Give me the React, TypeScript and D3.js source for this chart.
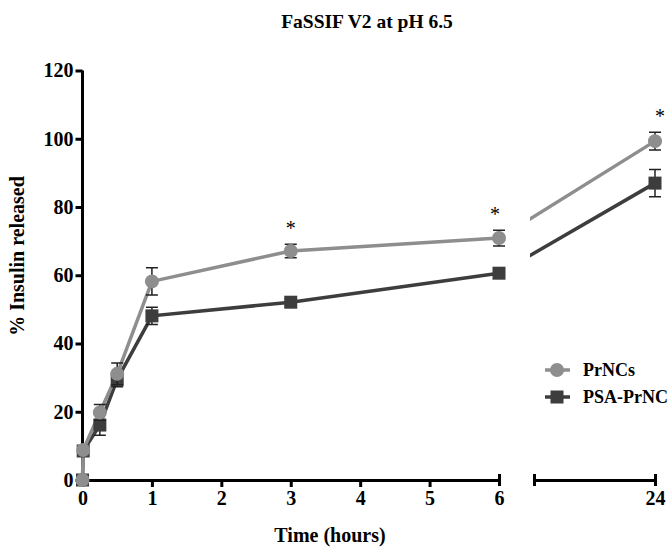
import React, { useRef, useEffect } from 'react';
import * as d3 from 'd3';

const times = [0, 0.01, 0.25, 0.5, 1, 3, 6, 24];
const prncs = [0, 8.8, 19.8, 31.1, 58.2, 67.1, 70.9, 99.3];
const prncsErr = [0, 0, 2.3, 3.2, 4, 2, 2.3, 2.6];
const psa = [0, 8.5, 16.1, 29.5, 48.1, 52.1, 60.6, 87];
const psaErr = [0, 0, 3, 2.2, 2.5, 1, 0.8, 4];
const starTimes = [3, 6, 24];
const starShift = [0, -4, 5];
const yTicks = [0, 20, 40, 60, 80, 100, 120];
const xTicksLeft = [0, 1, 2, 3, 4, 5, 6];
const xTicksRight = [24];

const LIGHT = '#8e8e8e';
const DARK = '#3d3d3d';
const FONT = 'Liberation Serif, DejaVu Serif, serif';

function setFont(sel: any, size: number, bold = true) {
  sel.attr('font-family', FONT).attr('font-size', size).attr('font-weight', bold ? 'bold' : 'normal')
    .style('font-family', FONT);
}

function App() {
  const svgRef = useRef<SVGSVGElement>(null);

  useEffect(() => {
    const svg = d3.select(svgRef.current);
    svg.selectAll('*').remove();

    // scales
    const y = d3.scaleLinear().domain([0, 120]).range([480, 70.5]);
    const xL = d3.scaleLinear().domain([0, 6]).range([82.5, 499]);
    const xR = d3.scaleLinear().domain([10, 24]).range([534, 655]);
    const xAny = (t: number) => (t <= 6 ? xL(t) : xR(t));

    svg.append('defs').append('clipPath').attr('id', 'rightclip')
      .append('rect').attr('x', 530).attr('y', 0).attr('width', 141).attr('height', 547);

    // title
    setFont(svg.append('text').attr('x', 367).attr('y', 28).attr('text-anchor', 'middle')
      .text('FaSSIF V2 at pH 6.5'), 19.5);

    // y axis
    const yAxis = d3.axisLeft(y).tickValues(yTicks).tickFormat(d3.format('d'))
      .tickSize(7).tickSizeOuter(0).tickPadding(2);
    const gy = svg.append('g').attr('transform', 'translate(82.5,0)').call(yAxis);
    gy.select('.domain').attr('stroke-width', 3).attr('d', `M0,${y(120)}V${y(0)}`);
    gy.selectAll('.tick line').attr('stroke-width', 3);
    setFont(gy.selectAll('.tick text').attr('fill', '#000'), 20);

    // x axis left segment
    const xAxisL = d3.axisBottom(xL).tickValues(xTicksLeft).tickFormat(d3.format('d'))
      .tickSize(7).tickSizeOuter(0).tickPadding(4);
    const gxl = svg.append('g').attr('transform', 'translate(0,480)').call(xAxisL);
    gxl.select('.domain').attr('stroke-width', 3);
    gxl.selectAll('.tick line').attr('stroke-width', 3);
    gxl.selectAll('.tick').filter(d => d === 6).select('line').attr('y1', -6).attr('y2', 6);
    setFont(gxl.selectAll('.tick text').attr('fill', '#000'), 20);

    // x axis right segment, after the break
    const xAxisR = d3.axisBottom(xR).tickValues([10, ...xTicksRight])
      .tickFormat(d => (xTicksRight.includes(d as number) ? String(d) : ''))
      .tickSize(7).tickSizeOuter(0).tickPadding(4);
    const gxr = svg.append('g').attr('transform', 'translate(0,480)').call(xAxisR);
    gxr.select('.domain').attr('stroke-width', 3);
    gxr.selectAll('.tick line').attr('stroke-width', 3).attr('y1', -6).attr('y2', 6);
    setFont(gxr.selectAll('.tick text').attr('fill', '#000'), 20);

    // axis titles
    setFont(svg.append('text').attr('x', 330).attr('y', 542).attr('text-anchor', 'middle')
      .text('Time (hours)'), 20);
    setFont(svg.append('text').attr('transform', 'translate(24,256) rotate(-90)').attr('text-anchor', 'middle')
      .text('% Insulin released'), 20);

    const series = [
      { name: 'PSA-PrNC', vals: psa, err: psaErr, color: DARK, shape: 'square' },
      { name: 'PrNCs', vals: prncs, err: prncsErr, color: LIGHT, shape: 'circle' },
    ];

    const lineL = d3.line<number>().x((_, i) => xL(times[i])).y(v => y(v));

    series.forEach(s => {
      const leftVals = s.vals.filter((_, i) => times[i] <= 6);
      svg.append('path').datum(leftVals).attr('d', lineL)
        .attr('fill', 'none').attr('stroke', s.color).attr('stroke-width', 3.5);
      // right piece, hidden across the axis gap
      const i6 = times.indexOf(6);
      const i24 = times.indexOf(24);
      svg.append('line').attr('clip-path', 'url(#rightclip)')
        .attr('x1', xR(6)).attr('y1', y(s.vals[i6]))
        .attr('x2', xR(24)).attr('y2', y(s.vals[i24]))
        .attr('stroke', s.color).attr('stroke-width', 3.5);
    });

    series.forEach(s => {
      const g = svg.append('g');
      s.vals.forEach((v, i) => {
        const cx = xAny(times[i]);
        const e = s.err[i];
        if (e > 0) {
          g.append('path')
            .attr('d', `M${cx},${y(v + e)}V${y(v - e)}M${cx - 6},${y(v + e)}H${cx + 6}M${cx - 6},${y(v - e)}H${cx + 6}`)
            .attr('stroke', '#222').attr('stroke-width', 1.5).attr('fill', 'none');
        }
        if (s.shape === 'circle') {
          g.append('circle').attr('cx', cx).attr('cy', y(v)).attr('r', 7).attr('fill', s.color);
        } else {
          g.append('rect').attr('x', cx - 6.5).attr('y', y(v) - 6.5).attr('width', 13).attr('height', 13).attr('fill', s.color);
        }
      });
    });

    // significance stars
    starTimes.forEach((t, k) => {
      const i = times.indexOf(t);
      setFont(svg.append('text').attr('x', xAny(t) + starShift[k])
        .attr('y', y(prncs[i] + prncsErr[i]) - 9).attr('text-anchor', 'middle')
        .text('*'), 20, false);
    });

    // legend
    const legend = [
      { name: 'PrNCs', color: LIGHT, shape: 'circle' },
      { name: 'PSA-PrNC', color: DARK, shape: 'square' },
    ];
    legend.forEach((l, i) => {
      const ly = 370 + i * 27;
      svg.append('line').attr('x1', 545).attr('x2', 570).attr('y1', ly).attr('y2', ly)
        .attr('stroke', l.color).attr('stroke-width', 3.5);
      if (l.shape === 'circle') {
        svg.append('circle').attr('cx', 557).attr('cy', ly).attr('r', 7).attr('fill', l.color);
      } else {
        svg.append('rect').attr('x', 550.5).attr('y', ly - 6.5).attr('width', 13).attr('height', 13).attr('fill', l.color);
      }
      setFont(svg.append('text').attr('x', 583).attr('y', ly + 6).text(l.name), 18);
    });
  }, []);

  return (
    <svg ref={svgRef} width={671} height={547}
      style={{ position: 'absolute', left: 0, top: 0, background: '#fff' }} />
  );
}

export default App;
